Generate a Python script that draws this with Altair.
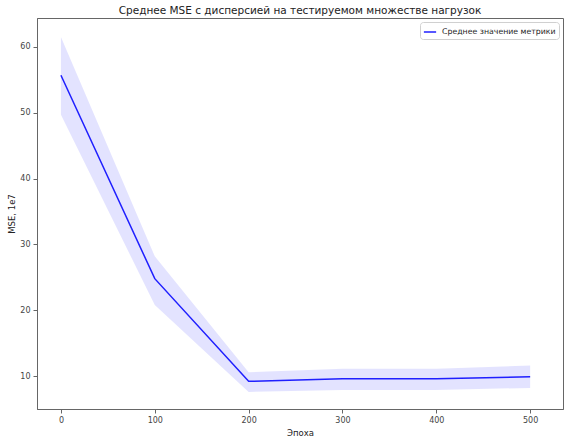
import altair as alt
import pandas as pd

epochs = [0, 100, 200, 300, 400, 500]
mean_mse = [55.7, 24.8, 9.2, 9.6, 9.6, 9.9]
upper_mse = [61.5, 28.2, 10.6, 11.1, 11.1, 11.6]
lower_mse = [49.7, 20.8, 7.6, 7.9, 7.9, 8.2]
series_name = "Среднее значение метрики"

df = pd.DataFrame({
    "epoch": epochs,
    "mean": mean_mse,
    "upper": upper_mse,
    "lower": lower_mse,
    "series": [series_name] * len(epochs),
})

FONT = "DejaVu Sans"
xscale = alt.Scale(domain=[-25.5, 535], nice=False, zero=False)
yscale = alt.Scale(domain=[5.0, 64.4], nice=False, zero=False)

band = alt.Chart(df).mark_area(color="#0000ff", opacity=0.11).encode(
    x=alt.X("epoch:Q", scale=xscale),
    y=alt.Y("lower:Q", scale=yscale),
    y2="upper:Q",
)

line = alt.Chart(df).mark_line(strokeWidth=1.5).encode(
    x=alt.X("epoch:Q", scale=xscale,
            axis=alt.Axis(values=[0, 100, 200, 300, 400, 500], title="Эпоха",
                          grid=False, format="d")),
    y=alt.Y("mean:Q", scale=yscale,
            axis=alt.Axis(values=[10, 20, 30, 40, 50, 60], title="MSE, 1e7",
                          grid=False, format="d")),
    color=alt.Color("series:N", scale=alt.Scale(range=["#1f1fff"]),
                    legend=alt.Legend(title=None, orient="none", legendX=383, legendY=4,
                                      symbolType="stroke", symbolStrokeWidth=1.5,
                                      symbolSize=150, labelFontSize=7.8, labelFont=FONT,
                                      labelColor="#222", fillColor="white",
                                      strokeColor="#d0d0d0", cornerRadius=3,
                                      padding=3, labelOffset=5)),
)

chart = (band + line).properties(
    width=526, height=391,
    title=alt.TitleParams("Среднее MSE с дисперсией на тестируемом множестве нагрузок",
                          fontSize=10.5, font=FONT, fontWeight="normal", color="#222",
                          offset=2),
    autosize=alt.AutoSizeParams(type="none"),
    padding={"left": 37, "top": 18, "right": 2, "bottom": 28},
).configure_view(stroke="#666", strokeWidth=1).configure_axis(
    domainColor="#666", tickColor="#666", labelColor="#444", titleColor="#222",
    labelFont=FONT, titleFont=FONT, labelFontSize=8, titleFontSize=8.5,
    titleFontWeight="normal", tickSize=4, labelPadding=3,
).configure_axisY(titlePadding=3).configure_axisX(titlePadding=4)

chart.save("out.html", embed_options={"renderer": "svg", "actions": False})
